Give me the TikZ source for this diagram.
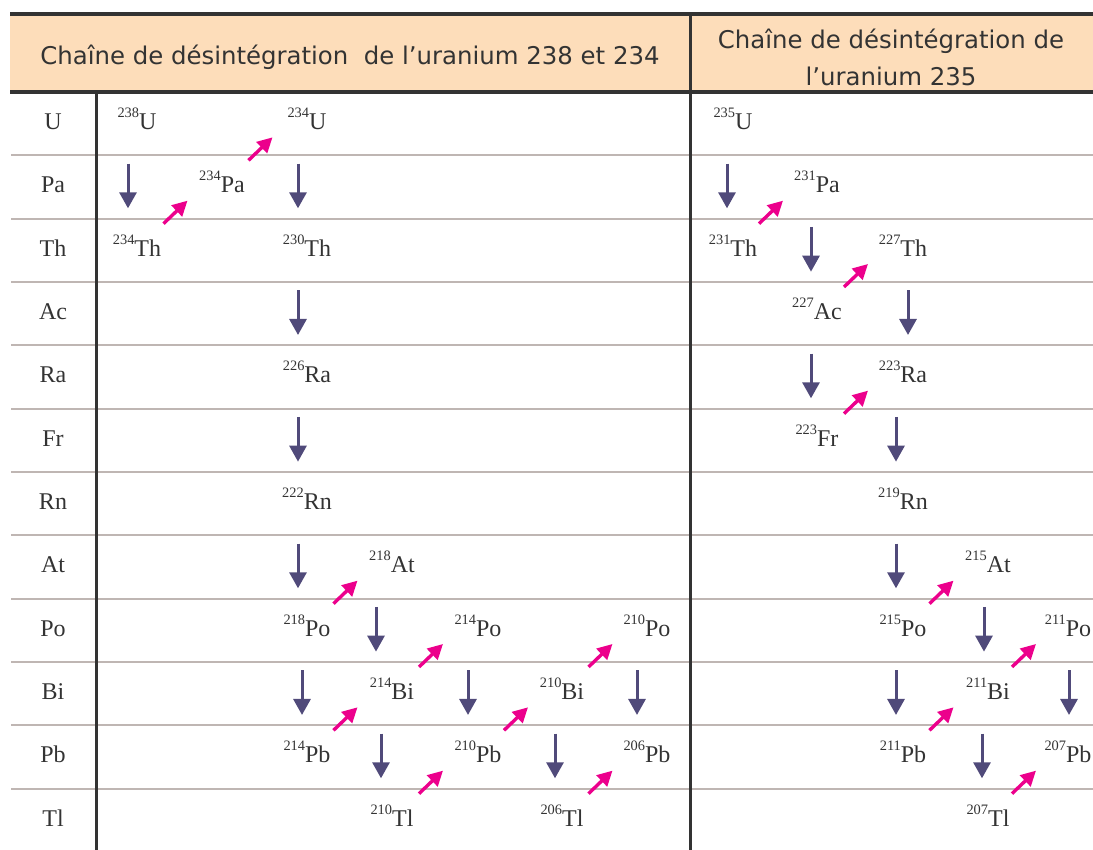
\documentclass[tikz,border=0pt]{standalone}
\usepackage{fontspec}
\setmainfont{Liberation Serif}
\newfontfamily\headfont{DejaVu Sans}
\usetikzlibrary{arrows.meta,calc}
\definecolor{headfill}{HTML}{FDDDBA}
\definecolor{alphacol}{HTML}{504A7A}
\definecolor{betacol}{HTML}{EC008C}
\definecolor{rulegray}{HTML}{BFB6B3}
\definecolor{txt}{HTML}{333333}
\newcommand{\iso}[2]{\raisebox{6pt}{\fontsize{7.2}{8}\selectfont #1}#2}

\begin{document}
\begin{tikzpicture}[x=0.5pt,y=-0.5pt,
  elem/.style={anchor=base, inner sep=0pt, text=txt, font=\fontsize{12}{14}\selectfont},
  nuc/.style={elem},
  head/.style={text=txt, font=\headfont\fontsize{12.2}{18.5}\selectfont, align=center},
  rowline/.style={rulegray, line width=1pt},
  frame/.style={txt, line width=1.5pt},
  alphadecay/.style={-{Triangle[length=8pt,width=8.5pt]}, line width=1.5pt, alphacol, shorten <=17pt, shorten >=24pt},
  betadecay/.style={-{Triangle[length=7.5pt,width=7.5pt]}, line width=1.7pt, betacol}
]
\useasboundingbox (0,0) rectangle (1093,850);
% header
\fill[headfill] (10,14) rectangle (1093,92);
\foreach \k in {1,...,11}
  \draw[rowline] (11,{92+63.33*\k}) -- (1093,{92+63.33*\k});
\draw[frame] (96,92) -- (96,850);
\draw[frame] (690,14) -- (690,850);
\draw[frame, line width=1.8pt] (10,14) -- (1093,14);
\draw[frame, line width=1.8pt] (10,92) -- (1093,92);
\node[head, anchor=base] (head1) at (350,65) {Chaîne de désintégration~ de l’uranium 238 et 234};
\node[head] (head2) at (891,57) {Chaîne de désintégration de\\l’uranium 235};

% element column
\foreach \el [count=\i from 0] in {U,Pa,Th,Ac,Ra,Fr,Rn,At,Po,Bi,Pb,Tl}
  \node[elem] (row\el) at (53,{92+63.33*(\i+0.5)+6}) {\el};

% uranium 238 and 234
\node[nuc] (U238)  at (137,0 |- rowU.base)  {\iso{238}{U}};
\node[nuc] (U234)  at (307,0 |- rowU.base)  {\iso{234}{U}};
\node[nuc] (Pa234) at (222,0 |- rowPa.base) {\iso{234}{Pa}};
\node[nuc] (Th234) at (137,0 |- rowTh.base) {\iso{234}{Th}};
\node[nuc] (Th230) at (307,0 |- rowTh.base) {\iso{230}{Th}};
\node[nuc] (Ra226) at (307,0 |- rowRa.base) {\iso{226}{Ra}};
\node[nuc] (Rn222) at (307,0 |- rowRn.base) {\iso{222}{Rn}};
\node[nuc] (At218) at (392,0 |- rowAt.base) {\iso{218}{At}};
\node[nuc] (Po218) at (307,0 |- rowPo.base) {\iso{218}{Po}};
\node[nuc] (Po214) at (478,0 |- rowPo.base) {\iso{214}{Po}};
\node[nuc] (Po210) at (647,0 |- rowPo.base) {\iso{210}{Po}};
\node[nuc] (Bi214) at (392,0 |- rowBi.base) {\iso{214}{Bi}};
\node[nuc] (Bi210) at (562,0 |- rowBi.base) {\iso{210}{Bi}};
\node[nuc] (Pb214) at (307,0 |- rowPb.base) {\iso{214}{Pb}};
\node[nuc] (Pb210) at (478,0 |- rowPb.base) {\iso{210}{Pb}};
\node[nuc] (Pb206) at (647,0 |- rowPb.base) {\iso{206}{Pb}};
\node[nuc] (Tl210) at (392,0 |- rowTl.base) {\iso{210}{Tl}};
\node[nuc] (Tl206) at (562,0 |- rowTl.base) {\iso{206}{Tl}};

% uranium 235
\node[nuc] (U235)  at (733,0 |- rowU.base)   {\iso{235}{U}};
\node[nuc] (Pa231) at (817,0 |- rowPa.base)  {\iso{231}{Pa}};
\node[nuc] (Th231) at (733,0 |- rowTh.base)  {\iso{231}{Th}};
\node[nuc] (Th227) at (903,0 |- rowTh.base)  {\iso{227}{Th}};
\node[nuc] (Ac227) at (817,0 |- rowAc.base)  {\iso{227}{Ac}};
\node[nuc] (Ra223) at (903,0 |- rowRa.base)  {\iso{223}{Ra}};
\node[nuc] (Fr223) at (817,0 |- rowFr.base)  {\iso{223}{Fr}};
\node[nuc] (Rn219) at (903,0 |- rowRn.base)  {\iso{219}{Rn}};
\node[nuc] (At215) at (988,0 |- rowAt.base)  {\iso{215}{At}};
\node[nuc] (Po215) at (903,0 |- rowPo.base)  {\iso{215}{Po}};
\node[nuc] (Po211) at (1068,0 |- rowPo.base) {\iso{211}{Po}};
\node[nuc] (Bi211) at (988,0 |- rowBi.base)  {\iso{211}{Bi}};
\node[nuc] (Pb211) at (903,0 |- rowPb.base)  {\iso{211}{Pb}};
\node[nuc] (Pb207) at (1068,0 |- rowPb.base) {\iso{207}{Pb}};
\node[nuc] (Tl207) at (988,0 |- rowTl.base)  {\iso{207}{Tl}};

% alpha decays
\draw[alphadecay] ([xshift=-4.5pt]U238.base)  -- ([xshift=-4.5pt]Th234.base);
\draw[alphadecay] ([xshift=-4.5pt]U234.base)  -- ([xshift=-4.5pt]Th230.base);
\draw[alphadecay] ([xshift=-4.5pt]Th230.base) -- ([xshift=-4.5pt]Ra226.base);
\draw[alphadecay] ([xshift=-4.5pt]Ra226.base) -- ([xshift=-4.5pt]Rn222.base);
\draw[alphadecay] ([xshift=-4.5pt]Rn222.base) -- ([xshift=-4.5pt]Po218.base);
\draw[alphadecay] ([xshift=-2.5pt]Po218.base) -- ([xshift=-2.5pt]Pb214.base);
\draw[alphadecay] ([xshift=-8pt]At218.base)   -- ([xshift=-8pt]Bi214.base);
\draw[alphadecay] ([xshift=-5pt]Po214.base)   -- ([xshift=-5pt]Pb210.base);
\draw[alphadecay] ([xshift=-5.5pt]Bi214.base) -- ([xshift=-5.5pt]Tl210.base);
\draw[alphadecay] ([xshift=-3.5pt]Bi210.base) -- ([xshift=-3.5pt]Tl206.base);
\draw[alphadecay] ([xshift=-5pt]Po210.base)   -- ([xshift=-5pt]Pb206.base);

\draw[alphadecay] ([xshift=-3pt]U235.base)    -- ([xshift=-3pt]Th231.base);
\draw[alphadecay] ([xshift=-3pt]Pa231.base)   -- ([xshift=-3pt]Ac227.base);
\draw[alphadecay] ([xshift=2.5pt]Th227.base)  -- ([xshift=2.5pt]Ra223.base);
\draw[alphadecay] ([xshift=-3pt]Ac227.base)   -- ([xshift=-3pt]Fr223.base);
\draw[alphadecay] ([xshift=-3.5pt]Ra223.base) -- ([xshift=-3.5pt]Rn219.base);
\draw[alphadecay] ([xshift=-3.5pt]Rn219.base) -- ([xshift=-3.5pt]Po215.base);
\draw[alphadecay] ([xshift=-2pt]At215.base)   -- ([xshift=-2pt]Bi211.base);
\draw[alphadecay] ([xshift=-3.5pt]Po215.base) -- ([xshift=-3.5pt]Pb211.base);
\draw[alphadecay] ([xshift=0.5pt]Po211.base)  -- ([xshift=0.5pt]Pb207.base);
\draw[alphadecay] ([xshift=-3pt]Bi211.base)   -- ([xshift=-3pt]Tl207.base);

% beta decays
\draw[betadecay] ($(Th234.base)!.5!(Pa234.base)$) ++(-16,-1) -- ++(24,-23);
\draw[betadecay] ($(Pa234.base)!.5!(U234.base)$) ++(-16,-1) -- ++(24,-23);
\draw[betadecay] ($(Po218.base)!.5!(At218.base)$) ++(-16,-1) -- ++(24,-23);
\draw[betadecay] ($(Bi214.base)!.5!(Po214.base)$) ++(-16,-1) -- ++(24,-23);
\draw[betadecay] ($(Pb214.base)!.5!(Bi214.base)$) ++(-16,-1) -- ++(24,-23);
\draw[betadecay] ($(Bi210.base)!.5!(Po210.base)$) ++(-16,-1) -- ++(24,-23);
\draw[betadecay] ($(Pb210.base)!.5!(Bi210.base)$) ++(-16,-1) -- ++(24,-23);
\draw[betadecay] ($(Tl210.base)!.5!(Pb210.base)$) ++(-16,-1) -- ++(24,-23);
\draw[betadecay] ($(Tl206.base)!.5!(Pb206.base)$) ++(-16,-1) -- ++(24,-23);

\draw[betadecay] ($(Th231.base)!.5!(Pa231.base)$) ++(-16,-1) -- ++(24,-23);
\draw[betadecay] ($(Ac227.base)!.5!(Th227.base)$) ++(-16,-1) -- ++(24,-23);
\draw[betadecay] ($(Fr223.base)!.5!(Ra223.base)$) ++(-16,-1) -- ++(24,-23);
\draw[betadecay] ($(Po215.base)!.5!(At215.base)$) ++(-16,-1) -- ++(24,-23);
\draw[betadecay] ($(Pb211.base)!.5!(Bi211.base)$) ++(-16,-1) -- ++(24,-23);
\draw[betadecay] ($(Bi211.base)!.5!(Po211.base)$) ++(-16,-1) -- ++(24,-23);
\draw[betadecay] ($(Tl207.base)!.5!(Pb207.base)$) ++(-16,-1) -- ++(24,-23);
\end{tikzpicture}
\end{document}
